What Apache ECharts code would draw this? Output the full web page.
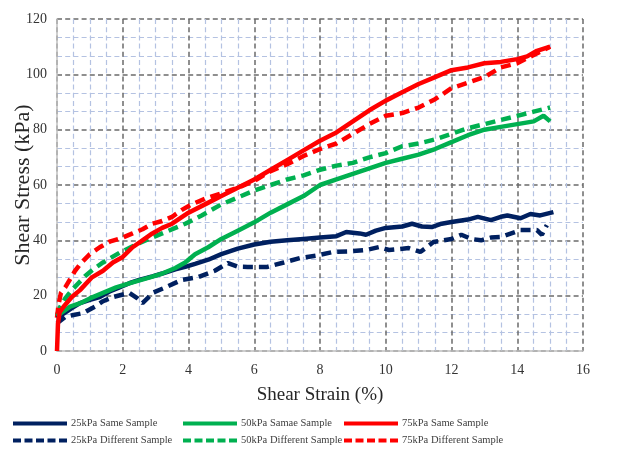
<!DOCTYPE html>
<html>
<head>
<meta charset="utf-8">
<script src="https://cdn.jsdelivr.net/npm/echarts@6/dist/echarts.min.js"></script>
<style>
  html, body { margin: 0; padding: 0; background: #fff; }
  #chart { width: 620px; height: 456px; }
</style>
</head>
<body>
<div id="chart"></div>
<script>
// Shear stress (kPa) against shear strain (%), as [strain, stress] pairs
const same25 = [[0,12],[0.2,13.5],[0.45,15.5],[0.7,17.3],[1,18.5],[1.3,19.5],[1.6,21.5],[1.9,23],[2.2,24.5],[2.5,25.7],[2.9,27],[3.2,28],[3.6,29.5],[3.9,30.4],[4.2,31.5],[4.6,33],[5,35],[5.5,37],[6,38.5],[6.5,39.5],[7,40],[7.5,40.5],[8,41],[8.5,41.5],[8.8,43],[9.2,42.5],[9.4,42],[9.7,43.5],[10,44.5],[10.5,45],[10.8,46],[11.1,45],[11.4,44.8],[11.7,46],[12,46.6],[12.5,47.5],[12.8,48.5],[13.2,47.3],[13.5,48.5],[13.7,49],[14.1,48],[14.4,49.5],[14.7,49],[15.1,50.2]];
const same50 = [[0,12.5],[0.15,14],[0.4,16],[0.75,17.5],[1,19],[1.4,21],[1.8,23],[2.3,24.8],[2.8,26.5],[3.2,28],[3.6,30],[3.9,32],[4.2,35],[4.6,37.5],[5,40.5],[5.5,43.5],[6,46.5],[6.5,50],[7,53],[7.5,56],[8,60],[8.5,62],[9,64],[9.5,66],[10,68],[10.5,69.5],[11,71],[11.5,73],[12,75.5],[12.5,78],[13,80],[13.5,81],[14,82],[14.5,83],[14.8,85],[15,83]];
const same75 = [[0,0],[0.03,10],[0.08,14],[0.2,16],[0.45,19.5],[0.7,22],[1.05,26.5],[1.4,29],[1.7,32],[2,34],[2.3,37.5],[2.6,40],[2.9,42.5],[3.2,44.5],[3.5,46],[4,50],[4.5,53],[5,56],[5.5,59],[6,62],[6.5,65.5],[7,69],[7.5,72.5],[8,76],[8.5,79],[9,83],[9.5,87],[10,90.5],[10.5,93.5],[11,96.5],[11.5,99],[12,101.5],[12.5,102.5],[13,104],[13.5,104.5],[14,105.5],[14.3,106.5],[14.6,108.5],[15,110]];
const diff25 = [[0,10],[0.25,12.3],[0.5,13],[0.8,13.7],[1.15,16],[1.4,18],[1.7,19.5],[2.2,21],[2.45,19],[2.6,17.3],[2.75,19],[2.9,21],[3.3,23],[3.8,25.7],[4.3,26.7],[4.8,29],[5.2,31.8],[5.5,30.5],[5.8,30.4],[6.4,30.4],[6.9,32],[7.4,33.6],[7.9,34.5],[8.4,35.8],[8.9,36],[9.4,36.5],[9.8,37.6],[10.1,36.5],[10.7,37.2],[11.05,35.8],[11.3,38],[11.45,39.4],[12,40.5],[12.3,42],[12.6,40.5],[12.9,40],[13.2,41],[13.5,41.2],[14.1,43.7],[14.6,43.7],[14.75,42],[14.9,45.5]];
const diff50 = [[0,13],[0.1,16],[0.25,19],[0.45,22],[0.65,24.5],[0.85,27],[1.1,29.5],[1.4,32],[1.9,35.5],[2.5,39],[3.2,42.5],[3.9,46],[4.4,49],[5,53],[5.5,55.5],[6,58],[6.5,60],[7,62],[7.5,63.5],[8,65.5],[8.5,67],[9,68],[9.5,70],[10,71.5],[10.5,74],[11,75],[11.5,76.5],[12,78.5],[12.5,80.5],[13,82],[13.5,83.5],[14,85],[14.5,86.5],[15,88]];
const diff75 = [[0,12],[0.05,17],[0.12,21],[0.25,23],[0.4,26],[0.55,29],[0.75,32],[1,35],[1.3,37.5],[1.6,39.5],[2,41],[2.3,42.5],[2.6,44],[2.9,46],[3.2,47],[3.5,48.5],[3.8,51],[4.1,53],[4.5,55],[5,57],[5.5,59],[6,61.5],[6.5,65],[7,67.5],[7.5,70.5],[8,73],[8.5,75],[9,78.5],[9.5,82],[10,85],[10.5,86],[11,88],[11.5,91],[12,95],[12.5,97],[13,99],[13.5,102.5],[14,104],[14.5,107],[15,110]];

const seriesNames = ['25kPa Same Sample', '50kPa Samae Sample', '75kPa Same Sample',
                     '25kPa Different Sample', '50kPa Different Sample', '75kPa Different Sample'];
const seriesData = [same25, same50, same75, diff25, diff50, diff75];
const seriesColors = ['#002060', '#00B050', '#FF0000', '#002060', '#00B050', '#FF0000'];

// Legend keys: a solid bar, and a bar of five dashes
const solidIcon = 'path://M0,0H54V4H0Z';
const dashIcon = 'path://M0,0H8V4H0Z M11.5,0H19.5V4H11.5Z M23,0H31V4H23Z M34.5,0H42.5V4H34.5Z M46,0H54V4H46Z';

const serif = 'Liberation Serif';
const chart = echarts.init(document.getElementById('chart'), null, { renderer: 'canvas' });

function legendColumn(left, solidName, dashName) {
  return {
    orient: 'vertical',
    left: left,
    top: 418,
    height: 38,
    itemWidth: 54,
    itemHeight: 4,
    itemGap: 6,
    padding: 0,
    textStyle: { fontFamily: serif, fontSize: 10.5, color: '#404040', padding: [0, 0, 0, -1] },
    data: [{ name: solidName, icon: solidIcon }, { name: dashName, icon: dashIcon }]
  };
}

chart.setOption({
  backgroundColor: '#ffffff',
  animation: false,
  grid: { left: 57, right: 37, top: 19, bottom: 105, outerBoundsMode: 'none', containLabel: false },
  legend: [
    legendColumn(13, seriesNames[0], seriesNames[3]),
    legendColumn(183, seriesNames[1], seriesNames[4]),
    legendColumn(344, seriesNames[2], seriesNames[5])
  ],
  xAxis: {
    type: 'value', min: 0, max: 16, interval: 2,
    name: 'Shear Strain (%)', nameLocation: 'middle', nameGap: 35,
    nameTextStyle: { fontFamily: serif, fontSize: 19, color: '#262626' },
    axisLine: { show: true, lineStyle: { color: '#bfbfbf', width: 1.5 } },
    axisTick: { show: false },
    axisLabel: { fontFamily: serif, fontSize: 14, color: '#333', margin: 12 },
    splitLine: { show: true, lineStyle: { color: '#6b6b6b', width: 1.5, type: [5, 3.2] } },
    minorTick: { show: false, splitNumber: 4 },
    minorSplitLine: { show: true, lineStyle: { color: '#b4c2e2', width: 1.2, type: [5, 3.2] } }
  },
  yAxis: {
    type: 'value', min: 0, max: 120, interval: 20,
    name: 'Shear Stress (kPa)', nameLocation: 'middle', nameGap: 23, nameMoveOverlap: false,
    nameTextStyle: { fontFamily: serif, fontSize: 22, color: '#262626' },
    axisLine: { show: true, lineStyle: { color: '#bfbfbf', width: 1.5 } },
    axisTick: { show: false },
    axisLabel: { fontFamily: serif, fontSize: 14, color: '#333', margin: 10 },
    splitLine: { show: true, lineStyle: { color: '#6b6b6b', width: 1.5, type: [5, 3.2] } },
    minorTick: { show: false, splitNumber: 3 },
    minorSplitLine: { show: true, lineStyle: { color: '#b4c2e2', width: 1.2, type: [5, 3.2] } }
  },
  series: seriesData.map((d, i) => ({
    name: seriesNames[i],
    type: 'line',
    data: d,
    symbol: 'none',
    color: seriesColors[i],
    lineStyle: {
      color: seriesColors[i],
      width: 4.5,
      type: i < 3 ? 'solid' : [10, 6],
      cap: 'butt'
    },
    z: 3 + (i < 3 ? 1 : 0)
  }))
});
</script>
</body>
</html>
